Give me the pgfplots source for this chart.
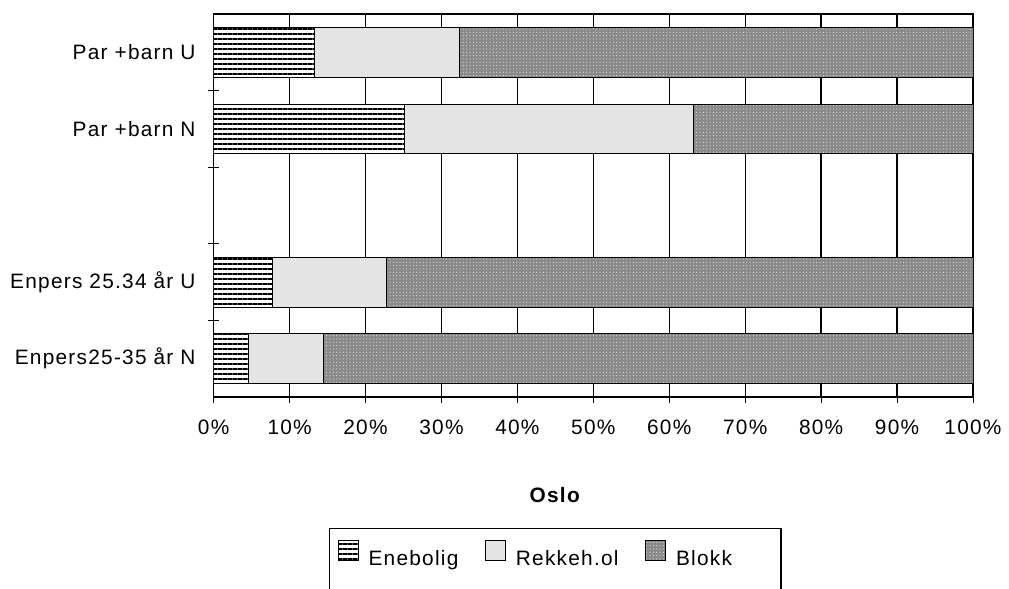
\documentclass[border=0pt]{standalone}
\usepackage{pgfplots}
\pgfplotsset{compat=1.18}
\usetikzlibrary{patterns,patterns.meta}
\usepackage{fontspec}
\setmainfont{Liberation Sans}[LetterSpace=6]
\definecolor{rekke}{HTML}{E4E4E4}
\definecolor{blokk}{HTML}{8A8A8A}
\begin{document}
\fontsize{12.5}{15}\selectfont
\begin{tikzpicture}
\begin{axis}[
    at={(0,0)}, anchor=south west,
    scale only axis,
    width=455.6pt, height=229.8pt,
    xbar stacked,
    bar width=0.65,
    xmin=0, xmax=100,
    ymin=0.5, ymax=5.5,
    xtick={0,10,...,100},
    xticklabels={0\%,10\%,20\%,30\%,40\%,50\%,60\%,70\%,80\%,90\%,100\%},
    ytick={1,2,4,5},
    yticklabels={Enpers25-35 år N,Enpers 25.34 år U,Par +barn N,Par +barn U},
    minor ytick={1.5,2.5,3.5,4.5},
    major tick length=7pt,
    minor tick length=7pt,
    tick align=center,
    xtick pos=bottom, ytick pos=left,
    major y tick style={draw=none},
    tick style={black, line width=0.6pt},
    xmajorgrids,
    major x grid style={black, line width=0.8pt},
    axis line style={black, line width=0.8pt},
    yticklabel style={xshift=-3pt},
    xticklabel style={yshift=-6pt},
    xlabel={\textbf{Oslo}},
    xlabel style={at={(axis description cs:0.45,0)}, anchor=center, yshift=-58.8pt},
    legend columns=3,
    legend image code/.code={\draw[#1] (0pt,-1pt) rectangle (12pt,11pt);},
    legend style={at={(0.1515,-0.342)}, anchor=north west,
        draw=black, line width=0.9pt, inner xsep=5pt, inner ysep=7pt,
        /tikz/every odd column/.append style={column sep=4pt},
        /tikz/every even column/.append style={column sep=14pt}},
]
\addplot[draw=black, line width=0.5pt, fill=white,
    postaction={pattern={Lines[angle=0,distance=3pt,line width=1.4pt]}}]
    coordinates {(4.6,1) (7.8,2) (25.1,4) (13.3,5)};
\addlegendentry{Enebolig}
\addplot[draw=black, line width=0.5pt, fill=rekke]
    coordinates {(9.8,1) (14.9,2) (38.1,4) (19.0,5)};
\addlegendentry{Rekkeh.ol}
\addplot[draw=black, line width=0.5pt, fill=blokk,
    postaction={pattern={Dots[distance=2pt,radius=0.35pt]}, pattern color=white!70!blokk}]
    coordinates {(85.6,1) (77.3,2) (36.8,4) (67.7,5)};
\addlegendentry{\makebox[56pt][l]{Blokk}}
% empty row, so that the legend box runs past the lower edge as in the scan
\addlegendimage{empty legend}
\addlegendentry{\rule{0pt}{30pt}}
\end{axis}
\pgfresetboundingbox
\path (-128.2pt,-115.2pt) rectangle (477.2pt,238.2pt);
\end{tikzpicture}
\end{document}
